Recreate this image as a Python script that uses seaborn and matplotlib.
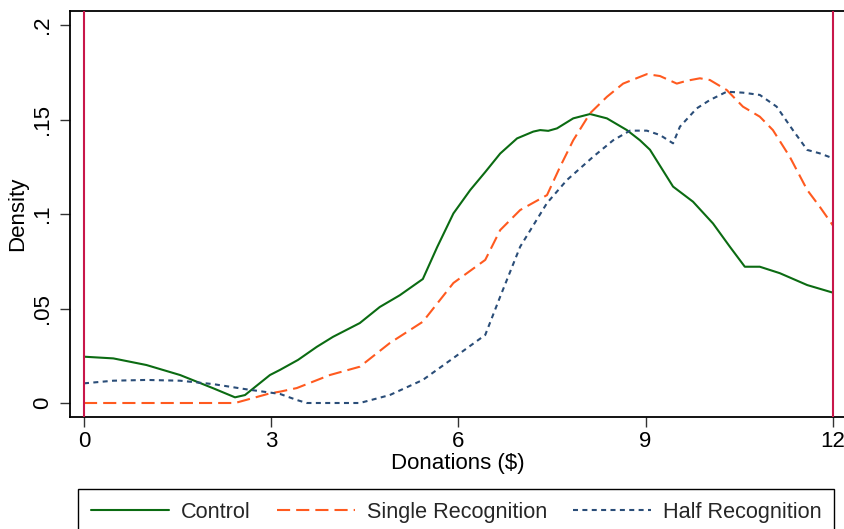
import numpy as np
import pandas as pd
import matplotlib
matplotlib.use('Agg')
import matplotlib.pyplot as plt
import seaborn as sns

# Curvas de densidade (x em $, y = densidade)
control_x = [0.0, 0.47, 1.0, 1.54, 2.07, 2.42, 2.58, 2.98, 3.14, 3.43, 3.73, 3.99, 4.42, 4.74,
             5.06, 5.43, 5.66, 5.92, 6.19, 6.43, 6.67, 6.94, 7.2, 7.31, 7.44, 7.58, 7.84, 8.11,
             8.38, 8.7, 8.91, 9.07, 9.44, 9.76, 10.08, 10.35, 10.59, 10.83, 11.15, 11.59, 12.0]
control_y = [0.0245, 0.0236, 0.0201, 0.0148, 0.0078, 0.003, 0.0042, 0.0148, 0.0175, 0.0228, 0.0297,
             0.035, 0.0423, 0.0508, 0.057, 0.0656, 0.0825, 0.1003, 0.1127, 0.1222, 0.132, 0.140,
             0.1436, 0.1444, 0.144, 0.1453, 0.1506, 0.1529, 0.1506, 0.1444, 0.139, 0.134, 0.1145,
             0.1065, 0.095, 0.0827, 0.0721, 0.0721, 0.0687, 0.0624, 0.0584]

single_x = [0.0, 1.0, 2.42, 2.98, 3.14, 3.41, 3.94, 4.42, 4.9, 5.43, 5.92, 6.43, 6.67, 6.99, 7.42,
            7.63, 7.84, 8.11, 8.38, 8.64, 9.02, 9.23, 9.5, 9.66, 9.87, 10.03, 10.3, 10.56, 10.83,
            11.04, 11.31, 11.59, 11.79, 12.0]
single_y = [0.0, 0.0, 0.0, 0.0051, 0.006, 0.0079, 0.0148, 0.0192, 0.0317, 0.043, 0.0635, 0.0757,
            0.0915, 0.1021, 0.110, 0.125, 0.139, 0.1533, 0.162, 0.169, 0.174, 0.173, 0.169, 0.1705,
            0.1718, 0.1709, 0.1656, 0.1568, 0.1515, 0.1444, 0.1303, 0.1127, 0.1039, 0.094]

half_x = [0.0, 0.47, 1.0, 1.54, 2.07, 2.61, 3.14, 3.41, 3.57, 4.42, 4.9, 5.43, 5.92, 6.43, 6.67,
          6.99, 7.42, 7.74, 8.16, 8.48, 8.75, 9.02, 9.23, 9.44, 9.55, 9.82, 10.03, 10.3, 10.56,
          10.83, 11.1, 11.36, 11.59, 11.79, 12.0]
half_y = [0.0104, 0.0118, 0.0122, 0.0118, 0.010, 0.0072, 0.0048, 0.0016, 0.0, 0.0, 0.0042, 0.0122,
          0.0238, 0.036, 0.0563, 0.0827, 0.1058, 0.118, 0.1303, 0.139, 0.1441, 0.1441, 0.1418,
          0.1374, 0.1462, 0.1559, 0.1603, 0.1647, 0.1642, 0.163, 0.1568, 0.1444, 0.1339, 0.1321,
          0.1295]

grupos = ["Control", "Single Recognition", "Half Recognition"]
x_ticks = [0, 3, 6, 9, 12]
y_ticks = [0, 0.05, 0.1, 0.15, 0.2]
y_labels = ["0", ".05", ".1", ".15", ".2"]

# Configuração inicial
sns.set_theme(style="white")
plt.rcParams['font.family'] = ['Liberation Sans', 'DejaVu Sans']

df = pd.concat([
    pd.DataFrame({"Donations ($)": control_x, "Density": control_y, "grupo": grupos[0]}),
    pd.DataFrame({"Donations ($)": single_x, "Density": single_y, "grupo": grupos[1]}),
    pd.DataFrame({"Donations ($)": half_x, "Density": half_y, "grupo": grupos[2]}),
])

cores = {"Control": "#0b6b12", "Single Recognition": "#ff5a1f", "Half Recognition": "#2a4d78"}
tracos = {"Control": "", "Single Recognition": (6.3, 2.9), "Half Recognition": (2.4, 2.1)}

W, H = 844, 529
fs = 16
fig = plt.figure(figsize=(W / 100, H / 100), dpi=100)
ax = fig.add_axes([70 / W, (H - 416.7) / H, (846 - 70) / W, (416.7 - 11) / H])

sns.lineplot(data=df, x="Donations ($)", y="Density", hue="grupo", style="grupo",
             hue_order=grupos, style_order=grupos, palette=cores, dashes=tracos,
             estimator=None, linewidth=1.5, legend=False, ax=ax)
handles = list(ax.lines[:3])

# linhas verticais nos limites
for xv in [0, 12]:
    ax.axvline(xv, color="#c8174a", linewidth=1.5, zorder=5)

ax.set_xlim(-14 / 62.4, (846 - 84) / 62.4)
ax.set_ylim(-13.7 / 1890, 392 / 1890)
ax.set_xticks(x_ticks)
ax.set_xticklabels([str(t) for t in x_ticks])
ax.set_yticks(y_ticks)
ax.set_yticklabels(y_labels, rotation=90, va="center")
ax.tick_params(axis="both", direction="out", length=7, width=1, color="#333333",
               labelsize=fs, labelcolor="black", bottom=True, left=True)
ax.tick_params(axis="y", pad=5)
ax.tick_params(axis="x", pad=3)
ax.set_xlabel("Donations ($)", fontsize=fs, color="black", labelpad=1)
ax.set_ylabel("Density", fontsize=fs, color="black", labelpad=3)
for s in ax.spines.values():
    s.set_color("black")
    s.set_linewidth(1.3)

fig.legend(handles, grupos, ncol=3, loc="upper left",
           bbox_to_anchor=(78 / W, 1 - 489 / H), fontsize=15.6, frameon=True,
           fancybox=False, edgecolor="black", framealpha=1, borderpad=0.6,
           handlelength=3.6, handletextpad=0.55, columnspacing=1.2, borderaxespad=0)

fig.savefig("out.png", dpi=100)
